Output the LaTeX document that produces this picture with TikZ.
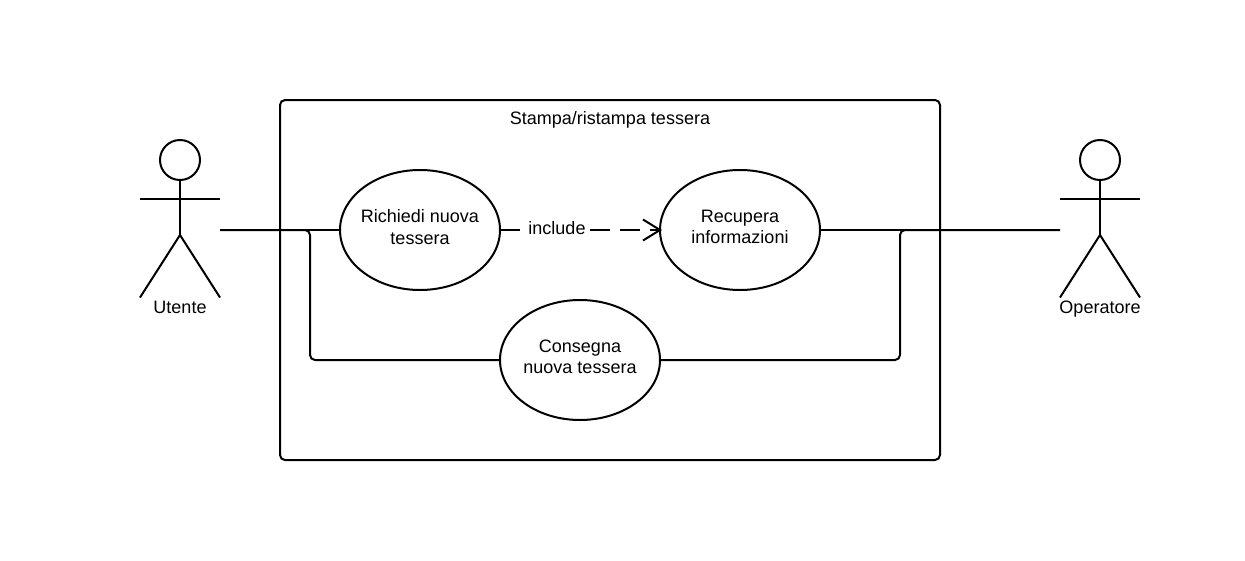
\documentclass[tikz,border=0pt]{standalone}
\usepackage{fontspec}
\setmainfont{Liberation Sans}
\usetikzlibrary{shapes.geometric}
\tikzset{
  x=1pt,y=-1pt,
  ln/.style={line width=2pt,black},
  usecase/.style={ellipse,draw,line width=2pt,minimum width=160pt,minimum height=120pt,inner sep=0pt,outer sep=0pt},
  uctext/.style={inner sep=0pt,align=center,yshift=3pt,font=\fontsize{18}{21.5}\selectfont},
  head/.style={circle,draw,line width=2pt,minimum size=40pt,inner sep=0pt},
  lab/.style={inner sep=0pt,anchor=base,font=\fontsize{18}{21}\selectfont},
  dashedline/.style={ln,dash pattern=on 20pt off 10pt}
}
\begin{document}
\begin{tikzpicture}
\useasboundingbox (0,0) rectangle (1245,560);
% system boundary
\node[draw,line width=2pt,rounded corners=5pt,minimum width=660pt,minimum height=360pt,inner sep=0pt] (sys) at (610,280) {};
\node[lab] (title) at (610,124) {Stampa/ristampa tessera};
% use cases
\node[usecase] (richiedi) at (420,230) {};
\node[usecase] (recupera) at (740,230) {};
\node[usecase] (consegna) at (580,360) {};
\node[uctext] (richiediT) at (richiedi) {Richiedi nuova\\tessera};
\node[uctext] (recuperaT) at (recupera) {Recupera\\informazioni};
\node[uctext] (consegnaT) at (consegna) {Consegna\\nuova tessera};
% actor Utente
\node[head] (uhead) at (180,160) {};
\coordinate (uhip) at (180,235);
\coordinate (uarmL) at (140,199.3);
\coordinate (uarmR) at (220,199.3);
\coordinate (ulegL) at (140,297.5);
\coordinate (ulegR) at (220,297.5);
\coordinate (uhand) at (220,230);
\coordinate (ubranch) at (310,230);
\draw[ln] (uhead.south) -- (uhip);
\draw[ln] (uarmL) -- (uarmR);
\draw[ln] (ulegL) -- (uhip) -- (ulegR);
\node[lab] (ulabel) at (180,313) {Utente};
% actor Operatore
\node[head] (ohead) at (1100,160) {};
\coordinate (ohip) at (1100,235);
\coordinate (oarmL) at (1060,199.3);
\coordinate (oarmR) at (1140,199.3);
\coordinate (olegL) at (1060,297.5);
\coordinate (olegR) at (1140,297.5);
\coordinate (ohand) at (1060,230);
\coordinate (obranch) at (900,230);
\draw[ln] (ohead.south) -- (ohip);
\draw[ln] (oarmL) -- (oarmR);
\draw[ln] (olegL) -- (ohip) -- (olegR);
\node[lab] (olabel) at (1100,313) {Operatore};
% associations
\draw[ln] (uhand) -- (richiedi.west);
\draw[ln,rounded corners=5pt] (uhand) -- (ubranch) |- (consegna.west);
\draw[ln] (recupera.east) -- (ohand);
\draw[ln,rounded corners=5pt] (ohand) -- (obranch) |- (consegna.east);
% include
\coordinate (barbT) at (643,219.5);
\coordinate (barbB) at (643,240.5);
\draw[dashedline] (richiedi.east) -- (recupera.west);
\draw[ln] (barbT) -- (recupera.west) -- (barbB);
\fill[white] (520,216) rectangle (590,242);
\node[lab] (inc) at (557,234) {include};
\end{tikzpicture}
\end{document}
